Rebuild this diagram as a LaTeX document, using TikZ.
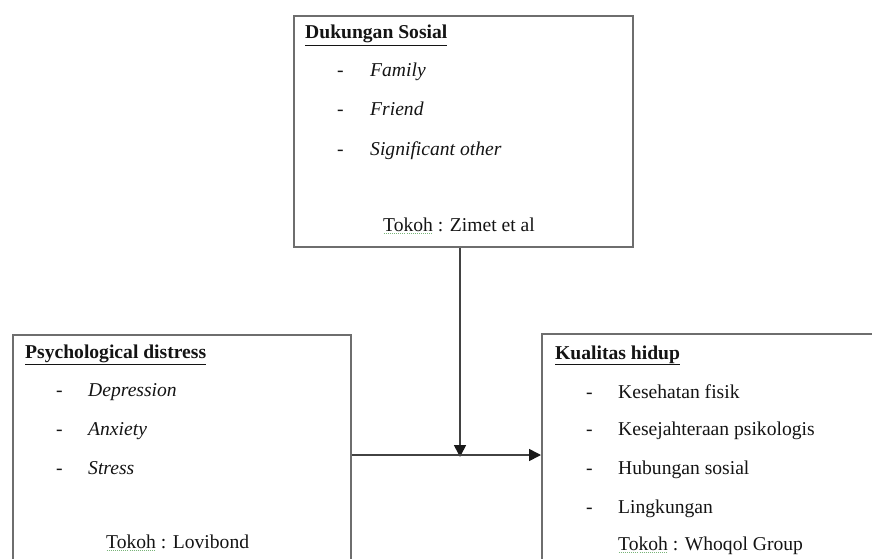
\documentclass[tikz,border=0pt]{standalone}
\usepackage{fontspec}
\setmainfont{Liberation Serif}
\usetikzlibrary{arrows.meta}
\definecolor{boxgray}{RGB}{110,110,110}
\definecolor{txt}{RGB}{20,20,20}
\definecolor{spell}{RGB}{120,180,120}
\newcommand\tokohword{\setbox0\hbox{Tokoh}\rlap{\hbox to \wd0{\color{spell}\xleaders\hbox to 2pt{\hss\rule[-3pt]{1pt}{0.8pt}\hss}\hfill}}\box0}
\tikzset{
  boxnode/.style={draw=boxgray, line width=1.8pt, anchor=north west, inner sep=0pt},
  txtnode/.style={anchor=base west, inner sep=0pt, text=txt, font=\fontsize{19.6}{22}\selectfont},
  titlenode/.style={txtnode, font=\fontsize{19.6}{22}\selectfont\bfseries},
  arr/.style={draw=boxgray!60!black, line width=1.6pt, -{Triangle[length=12pt,width=12pt,color=black!90]}}
}
\begin{document}
\begin{tikzpicture}[x=1pt,y=-1pt]
\useasboundingbox (0,0) rectangle (872,559);
\clip (0,0) rectangle (872,559);
\fill[white] (0,0) rectangle (872,559);
% boxes
\node[boxnode, minimum width=339pt, minimum height=231pt] (top) at (293,15) {};
\node[boxnode, minimum width=338pt, minimum height=250pt] (left) at (12,334) {};
\node[boxnode, minimum width=350pt, minimum height=250pt] (right) at (541,333) {};
% top box text
\node[titlenode] (t0) at (305,39) {\underline{Dukungan Sosial}};
\node[txtnode] (t1d) at (337,77) {-};
\node[txtnode] (t1) at (370,77) {\itshape Family};
\node[txtnode] (t2d) at (337,116) {-};
\node[txtnode] (t2) at (370,116) {\itshape Friend};
\node[txtnode] (t3d) at (337,155) {-};
\node[txtnode] (t3) at (370,155) {\itshape Significant other};
\node[txtnode] (t4) at (383,231) {\tokohword{} : Zimet et al};
% left box text
\node[titlenode] (l0) at (25,358) {\underline{Psychological distress}};
\node[txtnode] (l1d) at (56,396) {-};
\node[txtnode] (l1) at (88,396) {\itshape Depression};
\node[txtnode] (l2d) at (56,435) {-};
\node[txtnode] (l2) at (88,435) {\itshape Anxiety};
\node[txtnode] (l3d) at (56,474) {-};
\node[txtnode] (l3) at (88,474) {\itshape Stress};
\node[txtnode] (l4) at (106,548) {\tokohword{} : Lovibond};
% right box text
\node[titlenode] (r0) at (555,359) {\underline{Kualitas hidup}};
\node[txtnode] (r1d) at (586,398) {-};
\node[txtnode] (r1) at (618,398) {Kesehatan fisik};
\node[txtnode] (r2d) at (586,435) {-};
\node[txtnode] (r2) at (618,435) {Kesejahteraan psikologis};
\node[txtnode] (r3d) at (586,474) {-};
\node[txtnode] (r3) at (618,474) {Hubungan sosial};
\node[txtnode] (r4d) at (586,513) {-};
\node[txtnode] (r4) at (618,513) {Lingkungan};
\node[txtnode] (r5) at (618,550) {\tokohword{} : Whoqol Group};
% connectors
\coordinate (j) at (460,455);
\draw[arr] (top.south -| j) -- ([yshift=-2pt]j);
\draw[arr] (left.east |- j) -- (right.west |- j);
\end{tikzpicture}
\end{document}
